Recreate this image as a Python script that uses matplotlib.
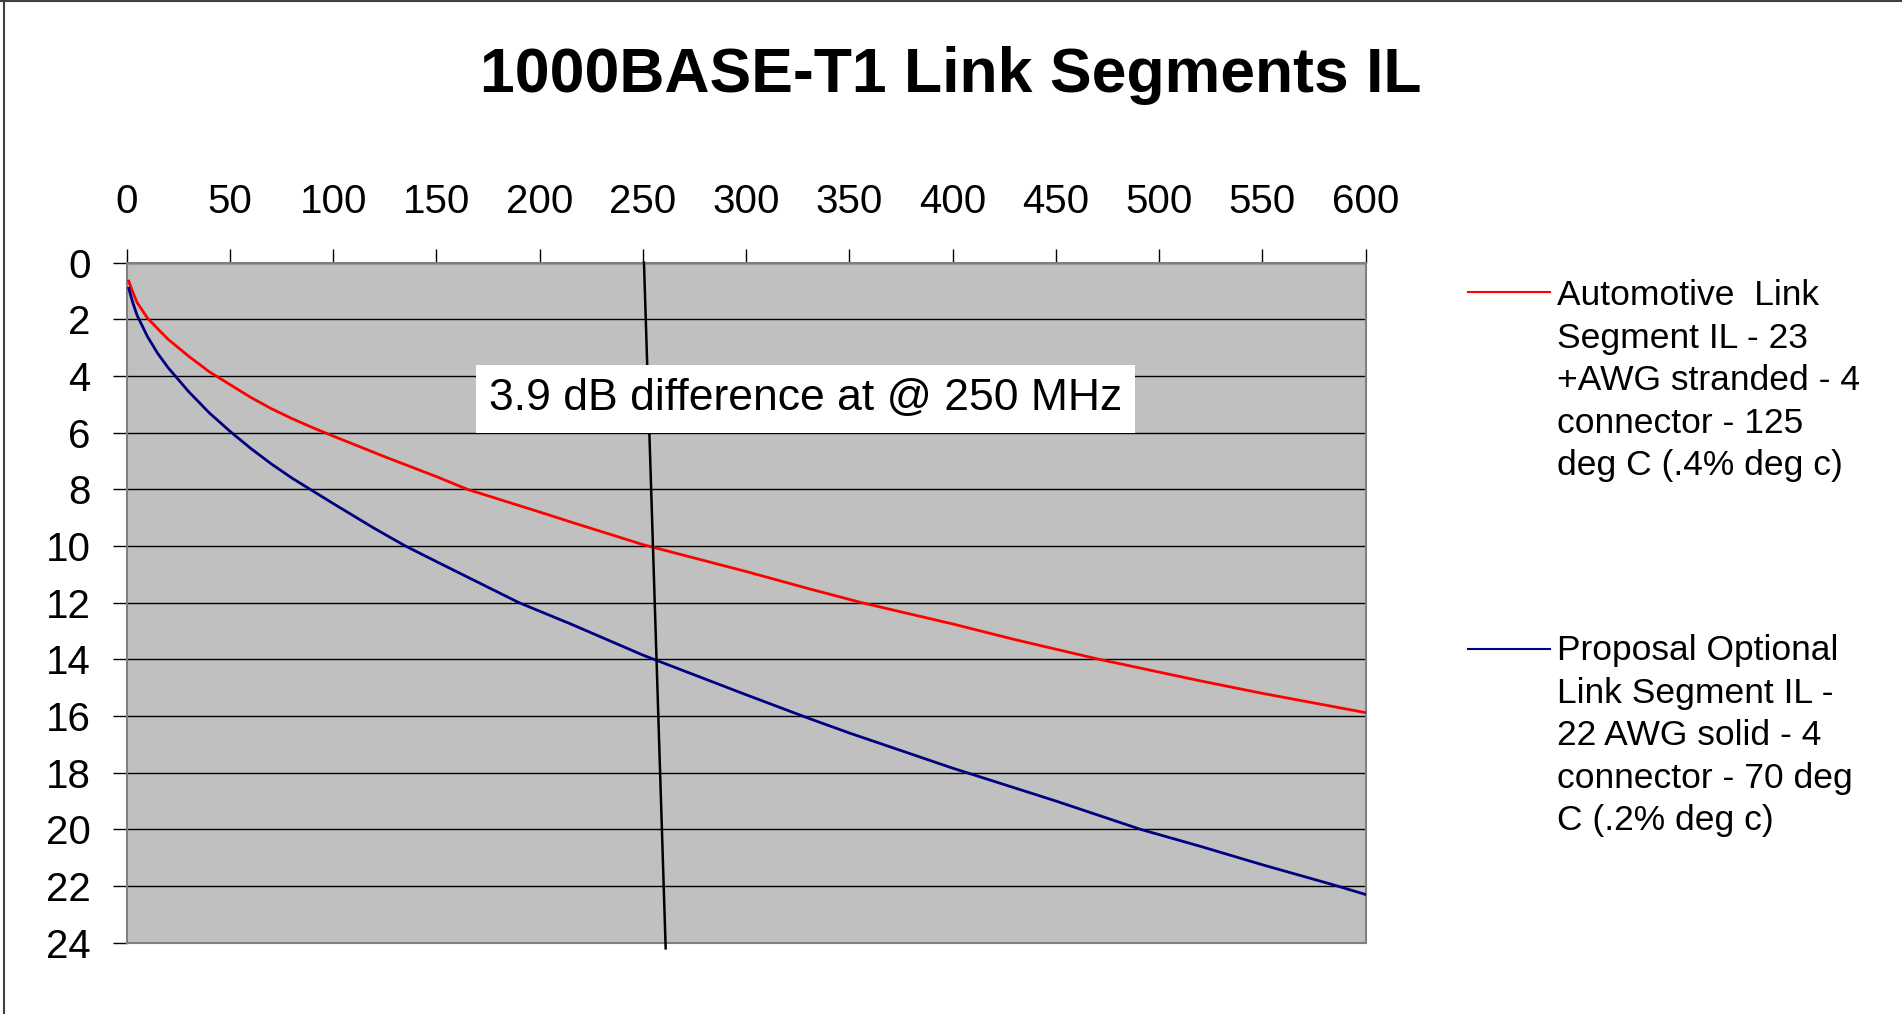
import matplotlib
matplotlib.use("Agg")
import matplotlib.pyplot as plt
from matplotlib.lines import Line2D

plt.rcParams['font.family'] = ['Liberation Sans', 'DejaVu Sans']

# Frequency (MHz) and insertion loss (dB)
red_f = [1, 2, 3, 5, 10, 15, 20, 30, 40, 50, 60, 70, 80, 90, 100, 125, 150,
         165, 200, 215, 250, 300, 330, 356, 400, 430, 471, 500, 520, 550, 600]
red_il = [0.65, 0.85, 1.05, 1.4, 1.95, 2.33, 2.7, 3.3, 3.85, 4.3, 4.75, 5.15,
          5.5, 5.82, 6.12, 6.85, 7.55, 8.0, 8.8, 9.15, 9.95, 10.9, 11.5, 12.0,
          12.75, 13.3, 14.0, 14.45, 14.76, 15.2, 15.88]

blue_f = [1, 2, 3, 5, 10, 15, 20, 30, 40, 50, 60, 70, 80, 90, 100, 120, 135,
          150, 190, 215, 250, 300, 331, 350, 400, 450, 491, 520, 550, 584, 600]
blue_il = [0.9, 1.17, 1.42, 1.85, 2.6, 3.2, 3.7, 4.55, 5.3, 5.95, 6.55, 7.1,
           7.6, 8.05, 8.5, 9.38, 10.0, 10.55, 12.0, 12.75, 13.85, 15.25, 16.1,
           16.6, 17.84, 19.0, 20.0, 20.6, 21.25, 21.95, 22.3]

marker_f = [250.5, 261.0]
marker_il = [0.0, 24.2]

x_ticks = list(range(0, 601, 50))
y_ticks = list(range(0, 25, 2))

title = "1000BASE-T1 Link Segments IL"
red_label = "Automotive  Link\nSegment IL - 23\n+AWG stranded - 4\nconnector - 125\ndeg C (.4% deg c)"
blue_label = "Proposal Optional\nLink Segment IL -\n22 AWG solid - 4\nconnector - 70 deg\nC (.2% deg c)"
note = "3.9 dB difference at @ 250 MHz"

W, H = 1902, 1014
fig = plt.figure(figsize=(W / 100, H / 100), dpi=100)
fig.patch.set_facecolor('white')

ax = fig.add_axes([126.7 / W, 1 - 942.7 / H, 1239 / W, 680 / H])
ax.set_facecolor('#C0C0C0')

ax.plot(red_f, red_il, color='#FF0000', lw=2.0, zorder=3)
ax.plot(blue_f, blue_il, color='#000080', lw=2.0, zorder=3)
ax.plot(marker_f, marker_il, color='black', lw=1.8, zorder=4, clip_on=False)

ax.set_xlim(0, 600)
ax.set_ylim(24, 0)
ax.set_xticks(x_ticks)
ax.set_yticks(y_ticks)
ax.xaxis.tick_top()
ax.tick_params(axis='x', which='major', direction='out', length=10, width=1,
               color='black', labelsize=29, pad=20)
ax.tick_params(axis='y', which='major', direction='out', length=10, width=1,
               color='black', labelsize=29, pad=16)
ax.yaxis.grid(True, color='black', lw=1.0, zorder=1)
ax.set_axisbelow(True)
for s in ax.spines.values():
    s.set_color('#808080')
    s.set_linewidth(1.5)

ax.text(328.7, 4.81, note, fontsize=32, ha='center', va='center', zorder=5,
        bbox=dict(boxstyle='square,pad=0.3', facecolor='white', edgecolor='none'))

fig.text(0.5, 1 - 76 / H, title, fontsize=45, fontweight='bold', ha='center', va='center')

# Legend
fig.add_artist(Line2D([1468 / W, 1550 / W], [1 - 292 / H, 1 - 292 / H], color='#FF0000', lw=1.5))
fig.add_artist(Line2D([1468 / W, 1550 / W], [1 - 649 / H, 1 - 649 / H], color='#000080', lw=1.5))
fig.text(1557 / W, 1 - 279 / H, red_label, fontsize=25.5, ha='left', va='top', linespacing=1.37)
fig.text(1557 / W, 1 - 634 / H, blue_label, fontsize=25.5, ha='left', va='top', linespacing=1.37)

# Figure frame (left and top edges)
fig.add_artist(Line2D([4 / W, 4 / W], [0, 1], color='#404040', lw=1.5))
fig.add_artist(Line2D([0, 1], [1 - 1 / H, 1 - 1 / H], color='#404040', lw=1.5))

fig.savefig('out.png', dpi=100)
